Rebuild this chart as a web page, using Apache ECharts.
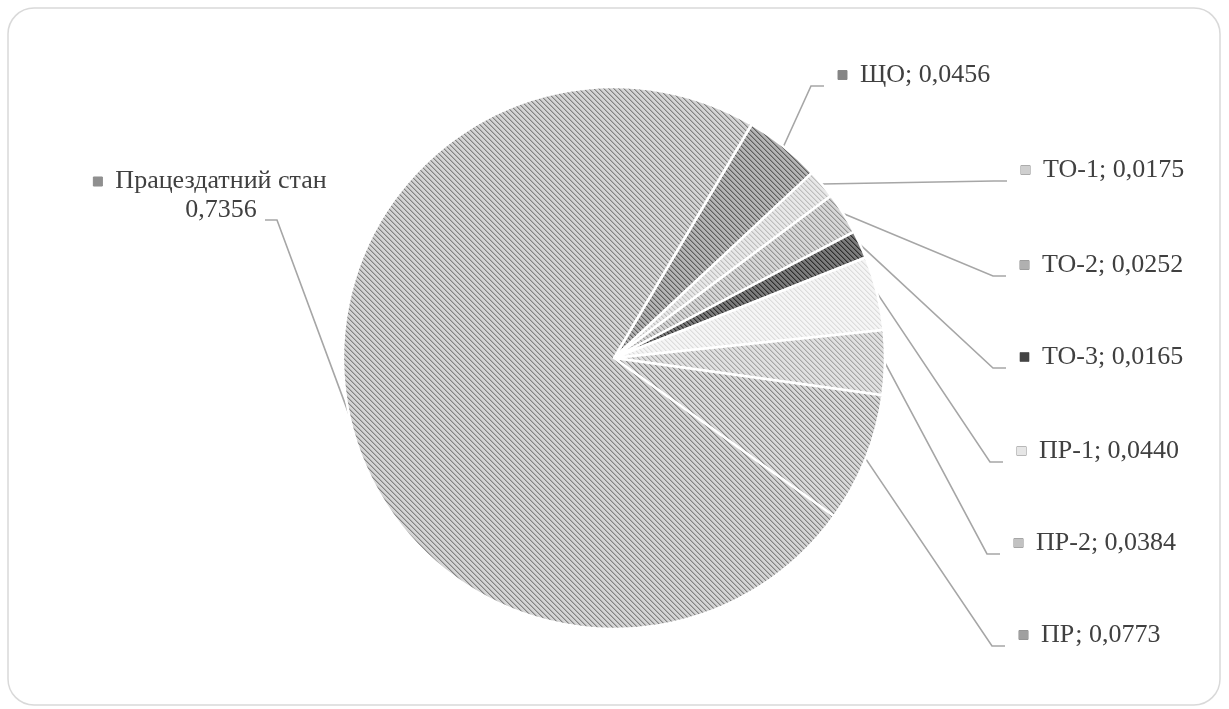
<!DOCTYPE html>
<html>
<head>
<meta charset="utf-8">
<script src="https://cdn.jsdelivr.net/npm/echarts@6/dist/echarts.min.js"></script>
<style>
  html, body { margin: 0; padding: 0; background: #ffffff; }
  #chart { width: 1229px; height: 709px; }
</style>
</head>
<body>
<div id="chart"></div>
<script>
// Probabilities of the system states (sum ≈ 1)
const categories = ['ЩО', 'ТО-1', 'ТО-2', 'ТО-3', 'ПР-1', 'ПР-2', 'ПР', 'Працездатний стан'];
const probabilities = [0.0456, 0.0175, 0.0252, 0.0165, 0.0440, 0.0384, 0.0773, 0.7356];

// Hatched fills per slice: [background, stripe, legend swatch]
const FILLS = [
  ['#b4b4b4', '#5e5e5e', '#858585'],
  ['#e8e8e8', '#bdbdbd', '#cfcfcf'],
  ['#d6d6d6', '#959595', '#b0b0b0'],
  ['#7c7c7c', '#2e2e2e', '#444444'],
  ['#f5f5f5', '#dcdcdc', '#e6e6e6'],
  ['#e0e0e0', '#a6a6a6', '#c2c2c2'],
  ['#d8d8d8', '#878787', '#a0a0a0'],
  ['#d4d4d4', '#828282', '#8f8f8f']
];

// Right-hand labels: left edge of swatch and vertical centre
const RIGHT_LABELS = [[838, 75], [1021, 170], [1020, 265], [1020, 357], [1017, 451], [1014, 543], [1019, 635]];

const FONT = 26;
const KEY = 9;
const GAP = 13;

function hatch(bg, fg) {
  const n = 5;
  const c = document.createElement('canvas');
  c.width = n; c.height = n;
  const ctx = c.getContext('2d');
  ctx.fillStyle = bg;
  ctx.fillRect(0, 0, n, n);
  for (let y = 0; y < n; y++) {
    for (let x = 0; x < n; x++) {
      const d = (x - y + n) % n;
      if (d === 0) { ctx.fillStyle = fg; ctx.fillRect(x, y, 1, 1); }
      else if (d === 1) { ctx.globalAlpha = 0.45; ctx.fillStyle = fg; ctx.fillRect(x, y, 1, 1); ctx.globalAlpha = 1; }
    }
  }
  return { image: c, repeat: 'repeat' };
}

const fmt = v => v.toFixed(4).replace('.', ',');

const rich = {
  t: { fontFamily: 'Liberation Serif', fontSize: FONT, color: '#404040', lineHeight: 29 },
  g: { width: GAP },
  sp: { width: KEY + GAP }
};
FILLS.forEach((f, i) => {
  rich['k' + i] = { width: KEY, height: KEY, backgroundColor: f[2], borderColor: '#8a8a8a', borderWidth: 0.5 };
});

const data = categories.map((name, i) => ({
  name: name,
  value: probabilities[i],
  itemStyle: { color: hatch(FILLS[i][0], FILLS[i][1]) }
}));

const chart = echarts.init(document.getElementById('chart'), null, { renderer: 'canvas' });

chart.setOption({
  backgroundColor: '#ffffff',
  animation: false,
  graphic: [{
    type: 'rect',
    shape: { x: 8, y: 8, width: 1212, height: 697, r: 26 },
    style: { fill: 'none', stroke: '#d9d9d9', lineWidth: 1.5 },
    silent: true
  }],
  series: [{
    type: 'pie',
    center: [614, 358],
    radius: 271,
    startAngle: 59.5,
    clockwise: true,
    avoidLabelOverlap: false,
    itemStyle: { borderColor: '#ffffff', borderWidth: 2.5 },
    label: {
      show: true,
      position: 'outside',
      fontFamily: 'Liberation Serif',
      fontSize: FONT,
      color: '#404040',
      lineHeight: 29,
      rich: rich,
      formatter: p => {
        const i = p.dataIndex;
        if (i === categories.length - 1) {
          return '{k' + i + '|}{g|}{t|' + p.name + '}\n{sp|}{t|' + fmt(p.value) + '}';
        }
        return '{k' + i + '|}{g|}{t|' + p.name + '; ' + fmt(p.value) + '}';
      }
    },
    labelLine: {
      show: true,
      length: 20,
      length2: 10,
      lineStyle: { color: '#a6a6a6', width: 1.6 }
    },
    labelLayout: p => {
      const i = p.dataIndex;
      const start = p.labelLinePoints[0];
      if (i === categories.length - 1) {
        return {
          x: 210, y: 196, align: 'center', verticalAlign: 'middle',
          labelLinePoints: [start, [277, 220], [265, 220]]
        };
      }
      const [x, y] = RIGHT_LABELS[i];
      return {
        x: x, y: y, align: 'left', verticalAlign: 'middle',
        labelLinePoints: [start, [x - 27, y + 11], [x - 14, y + 11]]
      };
    },
    data: data
  }]
});
</script>
</body>
</html>
